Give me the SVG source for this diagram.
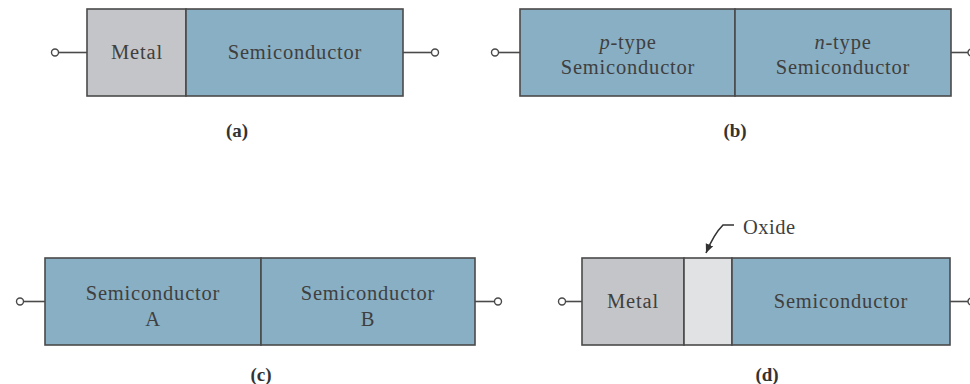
<svg xmlns="http://www.w3.org/2000/svg" width="970" height="384" viewBox="0 0 970 384">
<style>
.semi{fill:#89afc4;stroke:#4a4a4a;stroke-width:1.6}
.metal{fill:#c3c5c8;stroke:#4a4a4a;stroke-width:1.6}
.oxide{fill:#e1e2e4;stroke:#4a4a4a;stroke-width:1.6}
.wire{stroke:#4a4a4a;stroke-width:1.6;fill:none}
.term{fill:#fff;stroke:#4a4a4a;stroke-width:1.4}
.t{font-family:"Liberation Serif","DejaVu Serif",serif;font-size:20.5px;fill:#3f3f3f;text-anchor:middle;letter-spacing:0.8px}
.ts{font-family:"Liberation Serif","DejaVu Serif",serif;font-size:20.5px;fill:#3f3f3f;text-anchor:start;letter-spacing:0.5px}
.lab{font-family:"Liberation Serif","DejaVu Serif",serif;font-size:19px;font-weight:bold;fill:#333;text-anchor:middle}
</style>
<defs>
<marker id="ah" markerWidth="10" markerHeight="10" refX="9" refY="5" orient="auto" markerUnits="userSpaceOnUse">
<path d="M0,1 L9,5 L0,9 Z" fill="#333"/>
</marker>
</defs>
<g id="connectors">
<line class="wire" x1="58.5" y1="52.5" x2="87" y2="52.5"/>
<line class="wire" x1="403" y1="52.5" x2="431.5" y2="52.5"/>
<line class="wire" x1="498.5" y1="52.5" x2="520" y2="52.5"/>
<line class="wire" x1="951" y1="52.5" x2="968" y2="52.5"/>
<line class="wire" x1="23.5" y1="301.5" x2="45" y2="301.5"/>
<line class="wire" x1="475" y1="301.5" x2="494.5" y2="301.5"/>
<line class="wire" x1="565.5" y1="301.5" x2="582" y2="301.5"/>
<line class="wire" x1="950" y1="301.5" x2="968" y2="301.5"/>
<path class="wire" d="M734,225 L723,225 Q714,234 706,253" style="stroke:#333" marker-end="url(#ah)"/>
</g>
<g id="terminals">
<circle class="term" cx="55" cy="52.5" r="3.5"/>
<circle class="term" cx="435" cy="52.5" r="3.5"/>
<circle class="term" cx="495" cy="52.5" r="3.5"/>
<circle class="term" cx="971.5" cy="52.5" r="3.5"/>
<circle class="term" cx="20" cy="301.5" r="3.5"/>
<circle class="term" cx="498" cy="301.5" r="3.5"/>
<circle class="term" cx="562" cy="301.5" r="3.5"/>
<circle class="term" cx="971.5" cy="301.5" r="3.5"/>
</g>
<g id="a-metal">
<rect class="metal" x="87" y="9" width="99" height="87"/>
<text class="t" x="137" y="59">Metal</text>
</g>
<g id="a-semi">
<rect class="semi" x="186" y="9" width="217" height="87"/>
<text class="t" x="295" y="59">Semiconductor</text>
</g>
<text id="label-a" class="lab" x="237" y="137">(a)</text>
<g id="b-p">
<rect class="semi" x="520" y="9" width="215" height="87"/>
<text class="t" x="628" y="49"><tspan font-style="italic">p</tspan>-type</text>
<text class="t" x="628" y="74">Semiconductor</text>
</g>
<g id="b-n">
<rect class="semi" x="735" y="9" width="216" height="87"/>
<text class="t" x="843" y="49"><tspan font-style="italic">n</tspan>-type</text>
<text class="t" x="843" y="74">Semiconductor</text>
</g>
<text id="label-b" class="lab" x="735" y="137">(b)</text>
<g id="c-a">
<rect class="semi" x="45" y="258" width="216" height="87"/>
<text class="t" x="153" y="300">Semiconductor</text>
<text class="t" x="153" y="326">A</text>
</g>
<g id="c-b">
<rect class="semi" x="261" y="258" width="214" height="87"/>
<text class="t" x="368" y="300">Semiconductor</text>
<text class="t" x="368" y="326">B</text>
</g>
<text id="label-c" class="lab" x="261" y="381">(c)</text>
<g id="d-metal">
<rect class="metal" x="582" y="258" width="102" height="87"/>
<text class="t" x="633" y="308">Metal</text>
</g>
<g id="d-oxide">
<rect class="oxide" x="684" y="258" width="48" height="87"/>
</g>
<g id="d-semi">
<rect class="semi" x="732" y="258" width="218" height="87"/>
<text class="t" x="841" y="308">Semiconductor</text>
</g>
<text id="oxide-label" class="ts" x="743" y="234">Oxide</text>
<text id="label-d" class="lab" x="767" y="381">(d)</text>
</svg>
